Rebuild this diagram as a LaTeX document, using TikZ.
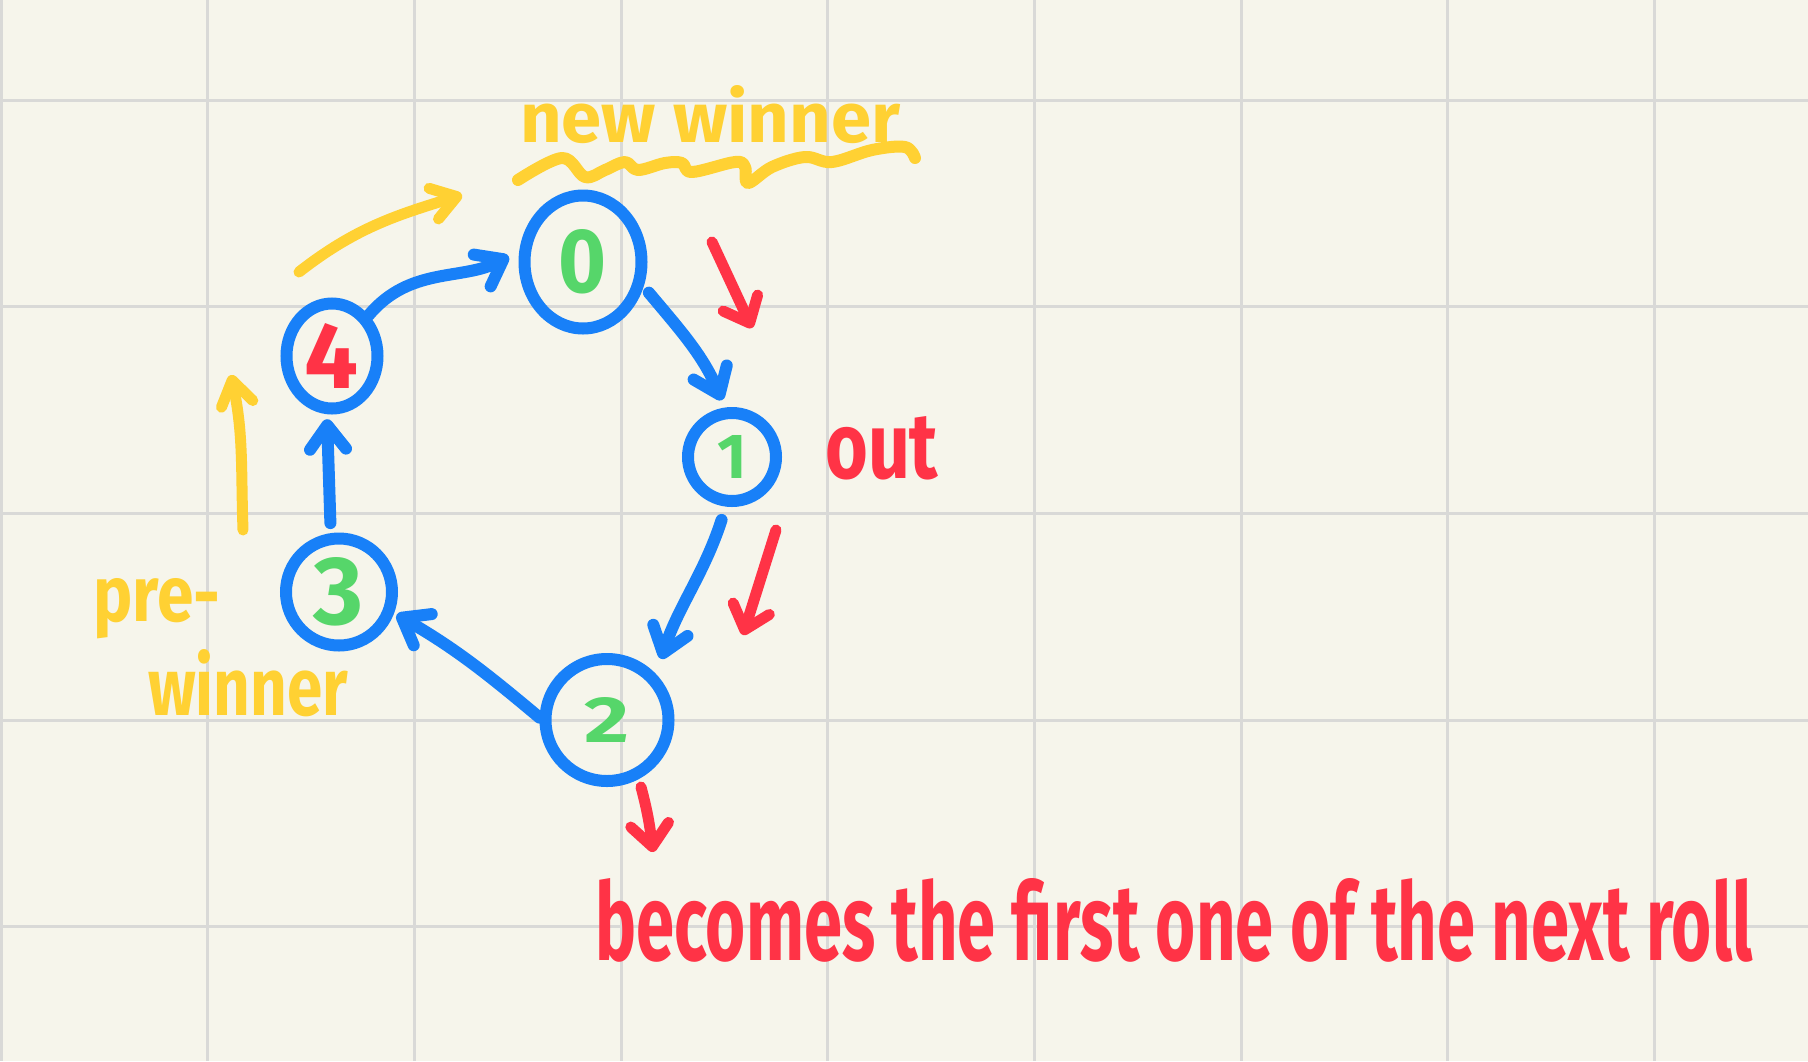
\documentclass[tikz,border=0pt]{standalone}
\usepackage{fontspec}
\usepackage{graphicx}
\setmainfont{Fira Sans}
\usetikzlibrary{arrows.meta,shapes.geometric}
\definecolor{bg}{RGB}{246,245,235}
\definecolor{gridc}{RGB}{217,217,215}
\definecolor{pblue}{RGB}{24,128,248}
\definecolor{pgreen}{RGB}{86,214,106}
\definecolor{pred}{RGB}{255,51,70}
\definecolor{pyellow}{RGB}{255,209,51}
\newcommand{\handtext}[3]{\resizebox{#1}{#2}{\bfseries #3}}
\newcommand{\handdigit}[3]{\resizebox{#1}{#2}{\bfseries #3}}
\begin{document}
\begin{tikzpicture}[x=1pt,y=1pt,
  gridline/.style={draw=gridc, line width=3pt},
  nodering/.style={ellipse, draw=pblue, line width=12pt, inner sep=0pt},
  inkblue/.style={draw=pblue, line width=12pt, line cap=round, line join=round,
    -{Straight Barb[length=24pt,width=36pt,line cap=round,line join=round]}},
  inkred/.style={draw=pred, line width=11pt, line cap=round, line join=round,
    -{Straight Barb[length=22pt,width=38pt,line cap=round,line join=round]}},
  inkyellow/.style={draw=pyellow, line width=11pt, line cap=round, line join=round,
    -{Straight Barb[length=24pt,width=32pt,line cap=round,line join=round]}},
  squiggle/.style={draw=pyellow, line width=12pt, line cap=round, line join=round},
  words/.style={anchor=base west, inner sep=0pt}
]
\fill[bg] (0,0) rectangle (1808,-1061);
\useasboundingbox (0,0) rectangle (1808,-1061);
% grid
\foreach \i in {0,...,8} \draw[gridline] ({1+206.7*\i},0) -- ({1+206.7*\i},-1061);
\foreach \j in {0,...,4} \draw[gridline] (0,{-100-206.7*\j}) -- (1808,{-100-206.7*\j});

% nodes
\node[nodering, minimum width=117pt, minimum height=133pt, text=pgreen] (n0) at (583,-262) {\handdigit{48pt}{63pt}{0}};
\node[nodering, minimum width=88pt, minimum height=88pt, text=pgreen] (n1) at (732,-457) {\handdigit{!}{43pt}{1}};
\node[nodering, minimum width=123pt, minimum height=122pt, text=pgreen] (n2) at (607,-720) {\handdigit{45pt}{45pt}{2}};
\node[nodering, minimum width=106pt, minimum height=107pt, text=pgreen] (n3) at (339,-592) {\handdigit{50pt}{67pt}{3}};
\node[nodering, minimum width=91pt, minimum height=105pt, text=pred] (n4) at (332,-356) {\handdigit{54pt}{65pt}{4}};

% blue connectors
\draw[inkblue, shorten >=12pt] (n4.48) to[out=50, in=208] (n0.170);
\draw[inkblue, shorten <=8pt, shorten >=8pt] (n0.-22) to[out=-50, in=113] (n1.98);
\draw[inkblue, shorten <=14pt, shorten >=16pt] (n1.-97) to[out=-108, in=72] (n2.43);
\draw[inkblue, shorten >=3pt] (n2.178) to[out=140, in=-30] (n3.-21);
\draw[inkblue, shorten <=10pt, shorten >=5pt] (n3.98) -- (n4.-95);

% red annotation arrows
\coordinate (ra1) at (712,-242); \coordinate (ra2) at (752,-328);
\coordinate (rb1) at (776,-530); \coordinate (rb2) at (743,-635);
\coordinate (rc1) at (641,-787); \coordinate (rc2) at (653,-852);
\draw[inkred] (ra1) -- (ra2);
\draw[inkred] (rb1) -- (rb2);
\draw[inkred] (rc1) to[out=-75, in=97] (rc2);

% yellow annotation arrows
\coordinate (ya1) at (299,-272); \coordinate (ya2) at (462,-195);
\coordinate (yu1) at (243,-530); \coordinate (yu2) at (231,-375);
\draw[inkyellow] (ya1) to[out=38, in=197] (ya2);
\draw[inkyellow] (yu1) to[out=92, in=-78] (yu2);
\draw[squiggle] plot[smooth, tension=0.6] coordinates {(518,-180) (562,-158) (585,-177) (605,-170) (625,-162) (638,-170) (665,-163) (682,-163) (692,-172) (735,-162) (745,-167) (748,-183) (772,-167) (805,-157) (832,-162) (872,-150) (905,-147) (915,-158)};

% texts
\node[words, text=pyellow] (tnew) at (520,-142) {\handtext{380pt}{57pt}{new winner}};
\node[words, text=pred] (tout) at (825,-478) {\handtext{113pt}{62pt}{out}};
\node[words, text=pyellow] (tpre) at (93,-621) {\handtext{127pt}{43pt}{pre-}};
\node[words, text=pyellow] (twin) at (148,-715) {\handtext{200pt}{66pt}{winner}};
\node[words, text=pred] (tbec) at (595,-960) {\handtext{1157pt}{82pt}{becomes the first one of the next roll}};
\end{tikzpicture}
\end{document}
